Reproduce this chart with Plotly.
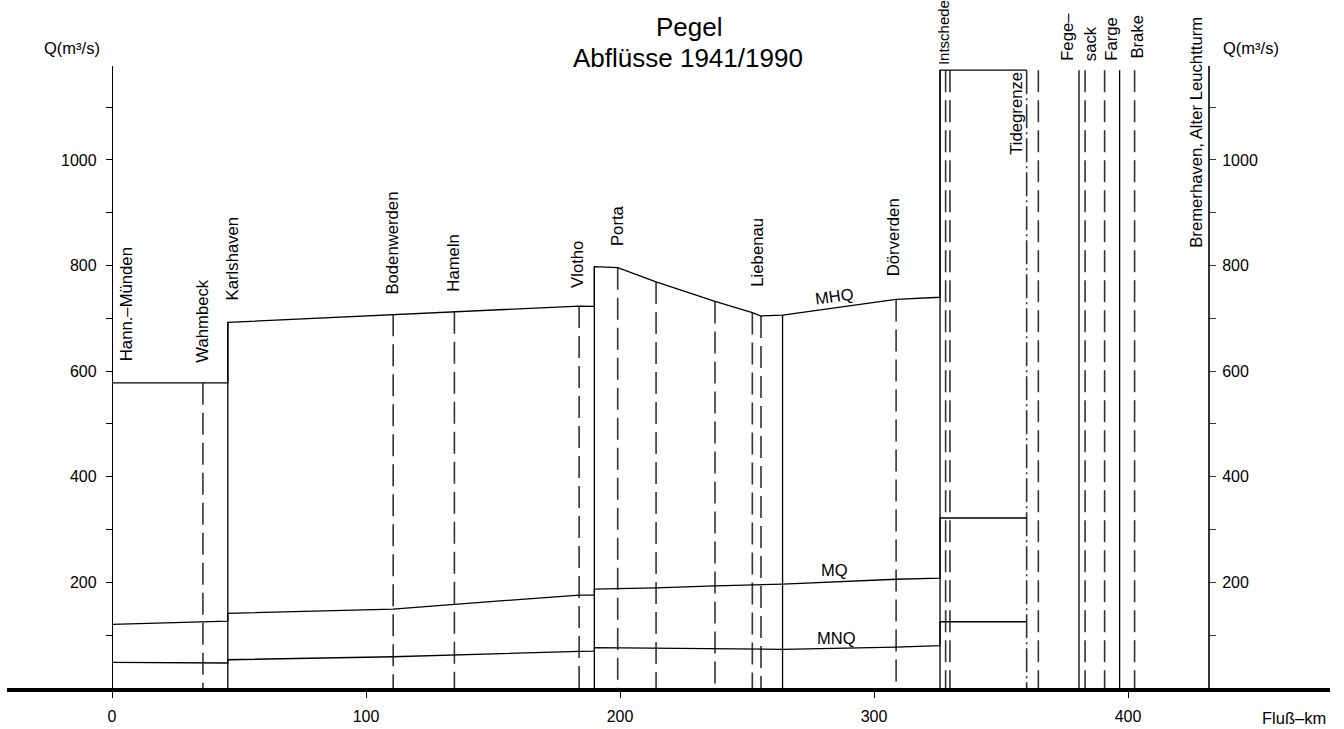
import numpy as np
import plotly.graph_objects as go

# ---------------- data (river km / discharge Q in m³/s) ----------------
mhq_km = [0, 45.6, 45.6, 110.7, 134.8, 183.9, 189.9, 189.9, 199.1, 214.2, 237.4,
          252.1, 255.5, 264.0, 308.7, 326.0, 326.0, 360.1]
mhq_q = [578, 578, 692.5, 707.7, 712.8, 723.4, 722.8, 798, 796, 769, 732,
         711, 704.5, 706, 736, 740, 1170, 1170]

mq_km = [0, 45.6, 45.6, 110.7, 134.8, 183.9, 189.9, 189.9, 199.1, 214.2, 237.4,
         264.0, 308.7, 326.0, 326.0, 360.1]
mq_q = [120.5, 126.8, 141.3, 149.5, 158.5, 176, 176, 187.3, 188.3, 189.8, 193.6,
        196.8, 206, 208, 322, 322]

mnq_km = [0, 45.6, 45.6, 110.7, 183.9, 189.9, 189.9, 214.2, 264.0, 308.7,
          326.0, 326.0, 360.1]
mnq_q = [48.6, 47.3, 53.5, 59.2, 69.4, 70, 76.3, 75.1, 73.2, 77.6,
         80.4, 125.5, 125.5]

# gauge lines (km)
solid_km = [45.6, 189.9, 264.0, 326.0, 380.7, 396.7]
dashed_km = [35.8, 110.7, 134.8, 183.9, 199.1, 214.2, 237.4, 252.1, 255.5,
             308.7, 328.2, 329.9, 364.7, 383.1, 390.8, 402.6]
dashdot_km = [360.1]

# gauge names and where their labels stand (km, Q of label foot)
label_names = ["Hann.–Münden", "Wahmbeck", "Karlshaven", "Bodenwerden", "Hameln",
               "Vlotho", "Porta", "Liebenau", "Dörverden", "Intschede",
               "Tidegrenze", "Fege–", "sack", "Farge", "Brake",
               "Bremerhaven, Alter Leuchtturm"]
label_km = [5.5, 35.8, 47.6, 110.6, 134.3, 183.5, 198.8, 254.3, 307.5, 327.2,
            356.3, 376.4, 385.0, 393.7, 403.9, 427.2]
label_q = [617, 615, 732, 744, 749, 755, 836, 759, 778, 1177,
           1007, 1186, 1186, 1186, 1190, 831]
label_size = [16.7] * 9 + [15] + [16.7] * 6

x_ticks = [0, 100, 200, 300, 400]
y_ticks = list(range(100, 1200, 100))
y_ticktext = [str(v) if v % 200 == 0 else "" for v in y_ticks]

# ---------------- figure ----------------
W, H = 1344, 729
ML, MR, MT, MB = 0, 0, 66, 41
YMAX = 1178
FONT = "Liberation Sans, Arial, sans-serif"
FS_TICK = 16
FS_TXT = 16.5


def top_at(x):
    same = [q for k, q in zip(mhq_km, mhq_q) if abs(k - x) < 1e-9]
    if same:
        return max(same)
    return float(np.interp(x, mhq_km, mhq_q))


def vlines(kms):
    xs, ys = [], []
    for k in kms:
        xs += [k, k, None]
        ys += [top_at(k), 0, None]
    return xs, ys


fig = go.Figure()

for kms, dash, col, w in [(solid_km, "solid", "black", 1.3),
                          (dashed_km, "22px,8px", "#333", 1.6),
                          (dashdot_km, "24px,4px,2px,4px", "#333", 1.6)]:
    xs, ys = vlines(kms)
    fig.add_trace(go.Scatter(x=xs, y=ys, mode="lines", connectgaps=False,
                             line=dict(color=col, width=w, dash=dash),
                             hoverinfo="skip", showlegend=False))

for kms, qs in [(mhq_km, mhq_q), (mq_km, mq_q), (mnq_km, mnq_q)]:
    fig.add_trace(go.Scatter(x=kms, y=qs, mode="lines",
                             line=dict(color="black", width=1.3),
                             hoverinfo="skip", showlegend=False))

# dummy trace so the right axis is drawn
fig.add_trace(go.Scatter(x=[0], y=[0], yaxis="y2", mode="markers",
                         marker=dict(opacity=0), hoverinfo="skip", showlegend=False))


def pxx(p):
    return p / W


def pxy(p):
    return (H - MB - p) / (H - MT - MB)


ann = []
for name, k, q, s in zip(label_names, label_km, label_q, label_size):
    ann.append(dict(x=k, y=q / YMAX, xref="x", yref="paper", text=name, textangle=-90,
                    showarrow=False, xanchor="center", yanchor="bottom",
                    borderpad=0,
                    font=dict(size=s, family=FONT, color="black")))

for txt, k, q, ang in [("MHQ", 284.6, 741.7, -8), ("MQ", 284.3, 223, 0),
                       ("MNQ", 285.4, 94.6, 0)]:
    ann.append(dict(x=k, y=q, xref="x", yref="y", text=txt, textangle=ang,
                    showarrow=False, font=dict(size=FS_TXT, family=FONT, color="black")))

for txt, px, py, sz in [("Pegel", 690, 27, 26), ("Abflüsse 1941/1990", 688, 58, 26),
                        ("Q(m³/s)", 72, 48, FS_TXT), ("Q(m³/s)", 1251, 48, FS_TXT),
                        ("Fluß–km", 1294, 718, FS_TXT)]:
    ann.append(dict(x=pxx(px), y=pxy(py), xref="paper", yref="paper", text=txt,
                    showarrow=False, xanchor="center", yanchor="middle",
                    font=dict(size=sz, family=FONT, color="black")))

x0_px, x1_px = 7, 1330
km0_px, scale = 112, 2.54
axis_common = dict(showgrid=False, zeroline=False, fixedrange=True,
                   tickfont=dict(size=FS_TICK, family=FONT, color="black"))
fig.update_layout(
    width=W, height=H,
    margin=dict(l=ML, r=MR, t=MT, b=MB, pad=0),
    paper_bgcolor="white", plot_bgcolor="white",
    hovermode=False,
    font=dict(family=FONT, size=FS_TXT, color="black"),
    xaxis=dict(domain=[x0_px / W, x1_px / W],
               range=[(x0_px - km0_px) / scale, (x1_px - km0_px) / scale],
               showline=True, linewidth=4, linecolor="black",
               ticks="outside", ticklen=6, tickwidth=1.3, tickcolor="black",
               tickvals=x_ticks, ticklabelstandoff=5, **axis_common),
    yaxis=dict(range=[0, YMAX], anchor="free", position=km0_px / W, side="left",
               showline=True, linewidth=1.3, linecolor="black",
               ticks="outside", ticklen=6, tickwidth=1.3, tickcolor="black",
               tickvals=y_ticks, ticktext=y_ticktext, ticklabelstandoff=6,
               **axis_common),
    yaxis2=dict(range=[0, YMAX], anchor="free", overlaying="y", side="right",
                position=1209 / W,
                showline=True, linewidth=2, linecolor="#333",
                ticks="outside", ticklen=6, tickwidth=1.3, tickcolor="#333",
                tickvals=y_ticks, ticktext=y_ticktext, ticklabelstandoff=3,
                **axis_common),
    annotations=ann,
)

fig.write_html("out.html")
